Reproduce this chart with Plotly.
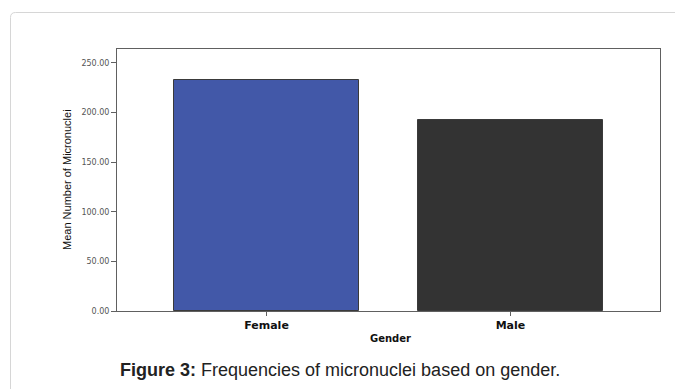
import plotly.graph_objects as go

categories = ["Female", "Male"]
mean_micronuclei = [232.5, 192.0]
bar_colors = ["#4258A8", "#333333"]
y_tickvals = [0, 50, 100, 150, 200, 250]
y_ticktext = ["0.00", "50.00", "100.00", "150.00", "200.00", "250.00"]

OFF = 8  # page body margin
W, H = 683, 389
# plot area in screen pixels
SX0, SX1, SY0, SY1 = 117, 660, 49, 311
L, T = SX0 - OFF, SY0 - OFF
R, B = W - (SX1 - OFF), H - (SY1 - OFF)
pw, ph = SX1 - SX0, SY1 - SY0

def px(x):
    return (x - SX0) / pw

def py(y):
    return (SY1 - y) / ph

fig = go.Figure()
fig.add_trace(go.Bar(
    x=categories, y=mean_micronuclei,
    marker=dict(color=bar_colors, line=dict(color="#3a3a3a", width=1)),
    width=0.755,
))

# outer rounded frame (top & left edges visible)
r = 5
path = (f"M {px(10.5)},{py(420)} L {px(10.5)},{py(12.5 + r)} "
        f"Q {px(10.5)},{py(12.5)} {px(10.5 + r)},{py(12.5)} L {px(720)},{py(12.5)}")
fig.add_shape(type="path", path=path, xref="paper", yref="paper",
              line=dict(color="#d6d6d6", width=1))

fig.add_annotation(text="Mean Number of Micronuclei", textangle=-90,
                   x=px(67), y=py(180), xref="paper", yref="paper",
                   showarrow=False, xanchor="center", yanchor="middle",
                   font=dict(family="Liberation Sans, Arial, sans-serif",
                             size=11, color="#111111"))
fig.add_annotation(text="<b>Gender</b>", x=px(390), y=py(338),
                   xref="paper", yref="paper", showarrow=False,
                   xanchor="center", yanchor="middle",
                   font=dict(family="DejaVu Sans, sans-serif", size=10, color="#111111"))
fig.add_annotation(text="<b>Figure 3:</b> Frequencies of micronuclei based on gender.",
                   x=px(340), y=py(370), xref="paper", yref="paper", showarrow=False,
                   xanchor="center", yanchor="middle",
                   font=dict(family="Liberation Sans, Arial, sans-serif", size=18, color="#222222"))

fig.update_layout(
    width=W, height=H,
    margin=dict(l=L, r=R, t=T, b=B, pad=0),
    paper_bgcolor="white", plot_bgcolor="white",
    showlegend=False,
    bargap=0,
    xaxis=dict(range=[-0.613, 1.613], showgrid=False, zeroline=False,
               showline=True, mirror=True, linecolor="#606060", linewidth=1,
               ticks="outside", ticklen=4, tickcolor="#606060",
               tickfont=dict(family="DejaVu Sans, sans-serif", size=11, color="#111111"),
               tickprefix="<b>", ticksuffix="</b>"),
    yaxis=dict(range=[0, 264], showgrid=False, zeroline=False,
               showline=True, mirror=True, linecolor="#606060", linewidth=1,
               ticks="outside", ticklen=5, tickcolor="#606060",
               tickvals=y_tickvals, ticktext=y_ticktext,
               tickfont=dict(family="DejaVu Sans, sans-serif", size=8, color="#555555")),
)

fig.write_html("out.html")
